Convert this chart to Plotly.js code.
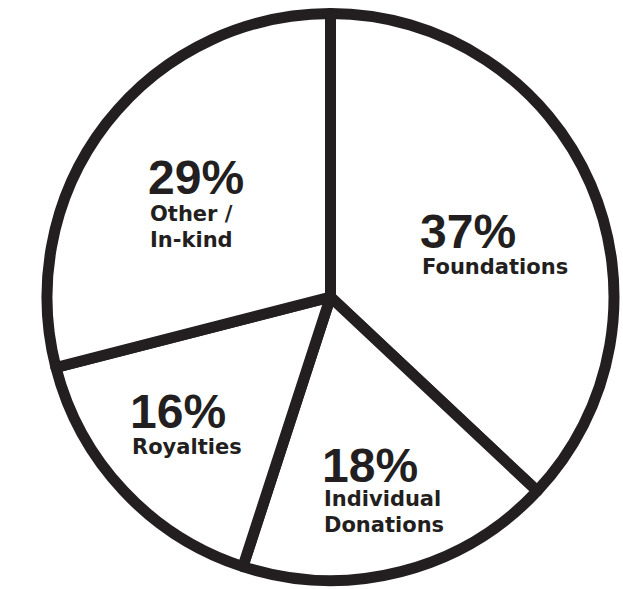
<!DOCTYPE html>
<html>
<head>
<meta charset="utf-8">
<script src="https://cdn.plot.ly/plotly-3.0.1.min.js"></script>
<style>
html,body{margin:0;padding:0;background:#fff;}
#chart{width:623px;height:589px;}
</style>
</head>
<body>
<div id="chart"></div>
<script>
var categories = ["Foundations", "Individual<br>Donations", "Royalties", "Other /<br>In-kind"];
var values = [37, 18, 16, 29];
var pctLabels = ["37%", "18%", "16%", "29%"];

var W = 623, H = 589;
// label anchor positions in pixels (left x, pct center y, name first-line center y)
var labelPos = [
  {x: 420, yp: 231, yn: 267},
  {x: 322, yp: 465, yn: 499},
  {x: 130, yp: 411, yn: 447},
  {x: 148, yp: 177, yn: 214}
];
var lineGap = 26;
function px(x){return x / W;}
function py(y){return 1 - y / H;}

var annotations = [];
for (var i = 0; i < categories.length; i++) {
  var p = labelPos[i];
  annotations.push({
    xref: 'paper', yref: 'paper', x: px(p.x - 2), y: py(p.yp),
    xanchor: 'left', yanchor: 'middle', showarrow: false,
    text: '<b>' + pctLabels[i] + '</b>',
    font: {family: 'Liberation Sans, Arial, sans-serif', size: 48, color: '#231f20'}
  });
  var lines = categories[i].split('<br>');
  for (var j = 0; j < lines.length; j++) {
    annotations.push({
      xref: 'paper', yref: 'paper', x: px(p.x), y: py(p.yn + j * lineGap),
      xanchor: 'left', yanchor: 'middle', align: 'left', showarrow: false,
      text: '<b>' + lines[j] + '</b>',
      font: {family: 'DejaVu Sans, sans-serif', size: 21, color: '#231f20'}
    });
  }
}

var cx = 330.5, cy = 297, r = 283.5;
var data = [{
  type: 'pie',
  labels: categories,
  values: values,
  sort: false,
  direction: 'clockwise',
  rotation: 0,
  textinfo: 'none',
  hoverinfo: 'skip',
  marker: {colors: ['#ffffff','#ffffff','#ffffff','#ffffff'], line: {color: '#231f20', width: 11}},
  domain: {x: [px(cx - r), px(cx + r)], y: [py(cy + r), py(cy - r)]},
  showlegend: false
}];

var layout = {
  width: W, height: H,
  margin: {l: 0, r: 0, t: 0, b: 0},
  paper_bgcolor: '#ffffff',
  showlegend: false,
  annotations: annotations
};
Plotly.newPlot('chart', data, layout, {displayModeBar: false, staticPlot: true});
</script>
</body>
</html>
